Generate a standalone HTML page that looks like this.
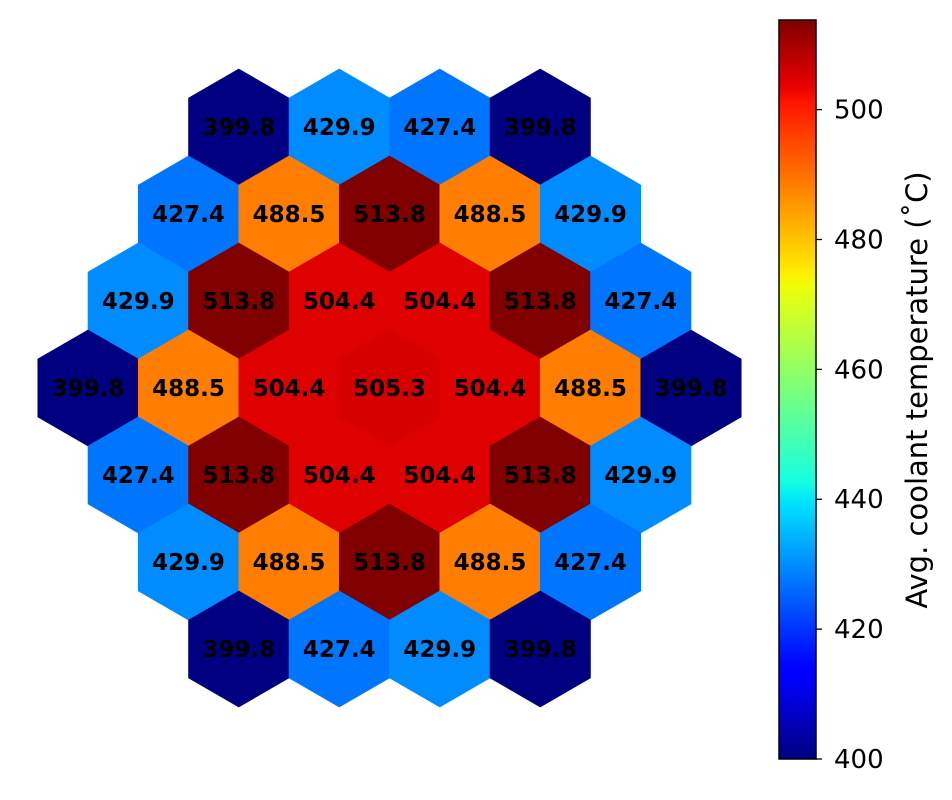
<!DOCTYPE html>
<html><head><meta charset="utf-8">
<style>
html,body{margin:0;padding:0;background:#fff;}
svg text{font-family:"DejaVu Sans","Liberation Sans",sans-serif;}
</style></head>
<body>
<svg id="chart" width="952" height="795" viewBox="0 0 952 795" xmlns="http://www.w3.org/2000/svg">
<defs><linearGradient id="cbgrad" x1="0" y1="1" x2="0" y2="0"></linearGradient></defs>
<g id="hexes"></g>
<g id="cbar"></g>
</svg>
<script>
const rowValues = [
  [399.8, 429.9, 427.4, 399.8],
  [427.4, 488.5, 513.8, 488.5, 429.9],
  [429.9, 513.8, 504.4, 504.4, 513.8, 427.4],
  [399.8, 488.5, 504.4, 505.3, 504.4, 488.5, 399.8],
  [427.4, 513.8, 504.4, 504.4, 513.8, 429.9],
  [429.9, 488.5, 513.8, 488.5, 427.4],
  [399.8, 427.4, 429.9, 399.8]
];
const vmin = 400, vmax = 513.8;
const tickValues = [400, 420, 440, 460, 480, 500];
const cbLabel = "Avg. coolant temperature (\u02DAC)";

const NS = "http://www.w3.org/2000/svg";
function clip(v){return Math.max(0, Math.min(1, v));}
function seg(points, t){
  for (let i=0;i<points.length-1;i++){
    const [x0,y0]=points[i],[x1,y1]=points[i+1];
    if (t>=x0 && t<=x1) return y0 + (y1-y0)*(t-x0)/(x1-x0);
  }
  return points[points.length-1][1];
}
const RED=[[0,0],[0.35,0],[0.66,1],[0.89,1],[1,0.5]];
const GREEN=[[0,0],[0.125,0],[0.375,1],[0.64,1],[0.91,0],[1,0]];
const BLUE=[[0,0.5],[0.11,1],[0.34,1],[0.65,0],[1,0]];
function jet(t){
  t = clip(t);
  return `rgb(${Math.round(seg(RED,t)*255)},${Math.round(seg(GREEN,t)*255)},${Math.round(seg(BLUE,t)*255)})`;
}
function norm(v){return (v - vmin)/(vmax - vmin);}

const dx = 100.5, dy = 87, R = 58;
const cx0 = 389.5, cy0 = 388;
const hexG = document.getElementById('hexes');
const nRows = rowValues.length, mid = (nRows-1)/2;
rowValues.forEach((row, ri) => {
  const y = cy0 + (ri - mid)*dy;
  const n = row.length;
  row.forEach((v, ci) => {
    const x = cx0 + (ci - (n-1)/2)*dx;
    const pts = [];
    for (let k=0;k<6;k++){
      const a = Math.PI/180*(60*k - 90);
      pts.push((x + R*Math.cos(a)).toFixed(2)+','+(y + R*Math.sin(a)).toFixed(2));
    }
    const p = document.createElementNS(NS,'polygon');
    
    
    p.setAttribute('points', pts.join(' '));
    p.setAttribute('fill', jet(norm(v)));
    p.setAttribute('stroke', jet(norm(v)));
    p.setAttribute('stroke-width', '0.6');
    hexG.appendChild(p);
    const t = document.createElementNS(NS,'text');
    
    
    t.setAttribute('x', x);
    t.setAttribute('y', y + 8);
    t.setAttribute('text-anchor', 'middle');
    t.setAttribute('font-size', '23');
    t.setAttribute('font-weight', 'bold');
    t.setAttribute('fill', '#000');
    t.textContent = v.toFixed(1);
    hexG.appendChild(t);
  });
});

const cbX = 779, cbW = 37, cbTop = 20, cbBot = 759;
function cbY(v){return cbBot - (v - vmin)/(vmax - vmin)*(cbBot - cbTop);}
const grad = document.getElementById('cbgrad');
for (let i=0;i<=100;i++){
  const s = document.createElementNS(NS,'stop');
  s.setAttribute('offset', (i/100));
  s.setAttribute('stop-color', jet(i/100));
  grad.appendChild(s);
}
const cb = document.getElementById('cbar');
const rect = document.createElementNS(NS,'rect');


rect.setAttribute('x', cbX); rect.setAttribute('y', cbTop);
rect.setAttribute('width', cbW); rect.setAttribute('height', cbBot - cbTop);
rect.setAttribute('fill', 'url(#cbgrad)');
rect.setAttribute('stroke', '#000'); rect.setAttribute('stroke-width', '1.5');
cb.appendChild(rect);
tickValues.forEach(v => {
  const y = cbY(v);
  const l = document.createElementNS(NS,'line');
  
  
  l.setAttribute('x1', cbX + cbW); l.setAttribute('x2', cbX + cbW + 6);
  l.setAttribute('y1', y); l.setAttribute('y2', y);
  l.setAttribute('stroke', '#000'); l.setAttribute('stroke-width', '1.3');
  cb.appendChild(l);
  const t = document.createElementNS(NS,'text');
  
  
  t.setAttribute('x', cbX + cbW + 18);
  t.setAttribute('y', y + 9);
  t.setAttribute('font-size', '26');
  t.setAttribute('fill', '#000');
  t.textContent = v;
  cb.appendChild(t);
});
const lab = document.createElementNS(NS,'text');


lab.setAttribute('transform', 'translate(927,390) rotate(-90)');
lab.setAttribute('text-anchor', 'middle');
lab.setAttribute('font-size', '29');
lab.setAttribute('fill', '#000');
lab.textContent = cbLabel;
cb.appendChild(lab);
</script>
</body></html>
